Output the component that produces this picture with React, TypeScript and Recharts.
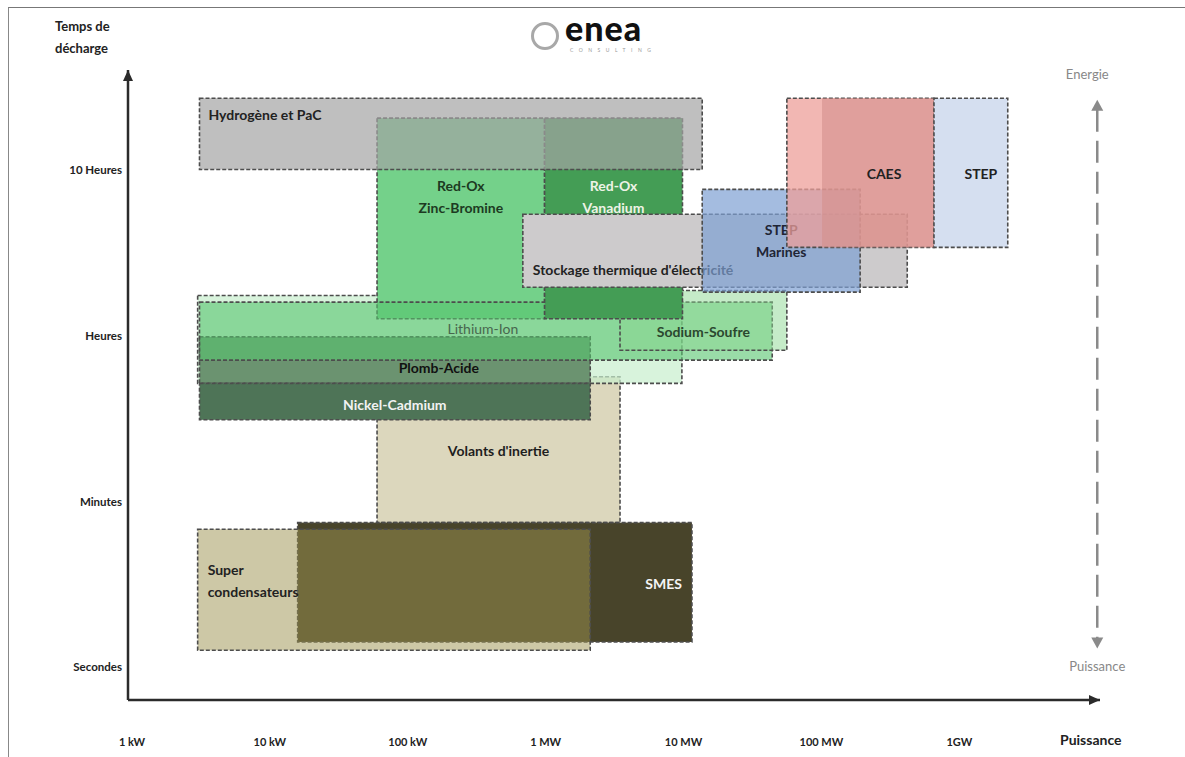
import React from 'react';
import { ComposedChart, XAxis, YAxis, ReferenceArea, ReferenceLine } from 'recharts';

const FONT = "Lato, 'Open Sans', sans-serif";

// storage technologies, listed in drawing order (later ones sit on top)
const techs = [
  "Volants d'inertie",
  'SMES',
  'Super condensateurs',
  'Lithium-Ion (plage)',
  'Red-Ox Zinc-Bromine',
  'Plomb-Acide',
  'Nickel-Cadmium',
  'Lithium-Ion',
  'Sodium-Soufre',
  'Red-Ox Vanadium',
  'Hydrogène et PaC',
  "Stockage thermique d'électricité",
  'STEP Marines',
  'CAES (plage)',
  'CAES',
  'STEP',
];

// text written in each box ('' = none)
const techLabels = [
  "Volants d'inertie",
  'SMES',
  'Super\ncondensateurs',
  '',
  'Red-Ox\nZinc-Bromine',
  'Plomb-Acide',
  'Nickel-Cadmium',
  'Lithium-Ion',
  'Sodium-Soufre',
  'Red-Ox\nVanadium',
  'Hydrogène et PaC',
  "Stockage thermique d'électricité",
  'STEP\nMarines',
  '',
  'CAES',
  'STEP',
];

// power range, kW
const powerMin = [64, 17, 3.2, 3.2, 64, 3.3, 3.3, 3.3, 3700, 1050, 3.3, 730, 14600, 60000, 108000, 700000];
const powerMax = [3700, 12300, 2250, 10400, 1050, 2250, 2250, 47000, 60000, 10500, 14600, 448000, 204000, 700000, 700000, 2400000];

// discharge time, in axis steps (0 = secondes, 1 = minutes, 2 = heures, 3 = 10 heures)
const timeMin = [0.87, 0.15, 0.1, 1.71, 2.1, 1.71, 1.49, 1.85, 1.91, 2.1, 3.0, 2.29, 2.26, 2.53, 2.53, 2.53];
const timeMax = [1.75, 0.87, 0.83, 2.24, 3.31, 1.99, 1.71, 2.2, 2.27, 3.31, 3.43, 2.73, 2.88, 3.43, 3.43, 3.43];

const powerTicks = [1, 10, 100, 1000, 10000, 100000, 1000000];
const powerTickLabels = ['1 kW', '10 kW', '100 kW', '1 MW', '10 MW', '100 MW', '1GW'];
const timeTicks = [0, 1, 2, 3];
const timeTickLabels = ['Secondes', 'Minutes', 'Heures', '10 Heures'];

type Look = {
  fill: string;
  op: number;
  dash: boolean;
  ink?: string;
  weight?: number;
  anchor?: 'start' | 'middle' | 'end';
  dx?: number;
  dy?: number;
};

// styles, same order as techs
const looks: Look[] = [
  { fill: '#dcd7bd', op: 1, dash: true, ink: '#1e1e1e', anchor: 'middle', dy: 74 },
  { fill: '#48442a', op: 1, dash: true, ink: '#f4f4f4', anchor: 'end', dx: -10, dy: 61 },
  { fill: '#9b914d', op: 0.5, dash: true, ink: '#222', anchor: 'start', dx: 10, dy: 40 },
  { fill: '#c8eecd', op: 0.7, dash: true },
  { fill: '#74d18a', op: 1, dash: true, ink: '#1d3a22', anchor: 'middle', dy: 67 },
  { fill: '#6b9370', op: 1, dash: true, ink: '#111', anchor: 'middle', dx: 44, dy: 31 },
  { fill: '#4e7457', op: 1, dash: true, ink: '#f2f2f2', anchor: 'middle', dy: 21 },
  { fill: '#56c46e', op: 0.6, dash: true, ink: '#48664e', weight: 400, anchor: 'middle', dx: -3, dy: 26 },
  { fill: '#8bd791', op: 0.5, dash: true, ink: '#2b482f', anchor: 'middle', dy: 41 },
  { fill: '#449d55', op: 1, dash: true, ink: '#eef3e6', anchor: 'middle', dy: 67 },
  { fill: '#a4a4a4', op: 0.7, dash: true, ink: '#222', anchor: 'start', dx: 9, dy: 16 },
  { fill: '#cdcbcc', op: 1, dash: true, ink: '#222', anchor: 'start', dx: 10, dy: 55 },
  { fill: '#7e9fd3', op: 0.7, dash: true, ink: '#1f2535', anchor: 'middle', dy: 40 },
  { fill: '#ee9f9a', op: 0.75, dash: true },
  { fill: '#d4908c', op: 0.6, dash: false, ink: '#222', anchor: 'middle', dx: 6, dy: 75 },
  { fill: '#d5dff0', op: 1, dash: true, ink: '#222', anchor: 'middle', dx: 10, dy: 75 },
];

const boxShape = (i: number) => (p: any) => {
  const look = looks[i];
  const { x, y, width, height } = p;
  const lines = techLabels[i] ? techLabels[i].split('\n') : [];
  const anchor = look.anchor ?? 'middle';
  let tx = x + width / 2 + (look.dx ?? 0);
  if (anchor === 'start') tx = x + (look.dx ?? 0);
  if (anchor === 'end') tx = x + width + (look.dx ?? 0);
  return (
    <g>
      <rect
        x={x}
        y={y}
        width={width}
        height={height}
        fill={look.fill}
        fillOpacity={look.op}
        stroke={look.dash ? '#4d4d4d' : 'none'}
        strokeWidth={1.6}
        strokeDasharray={look.dash ? '4 2' : undefined}
      />
      {lines.map((t, k) => (
        <text
          key={k}
          x={tx}
          y={y + (look.dy ?? 0) + k * 22}
          textAnchor={anchor}
          dominantBaseline="central"
          fill={look.ink}
          fontSize={14}
          fontWeight={look.weight ?? 700}
          fontFamily={FONT}
        >
          {t}
        </text>
      ))}
    </g>
  );
};

const arrowHead = (x1: number, y1: number, x2: number, y2: number, len: number, half: number) => {
  const a = Math.atan2(y2 - y1, x2 - x1);
  const bx = x2 - len * Math.cos(a);
  const by = y2 - len * Math.sin(a);
  const px = half * Math.sin(a);
  const py = half * Math.cos(a);
  return `${x2},${y2} ${bx - px},${by + py} ${bx + px},${by - py}`;
};

const AxisArrow = (p: any) => {
  const { x1, y1, x2, y2 } = p;
  return (
    <g>
      <line x1={x1} y1={y1} x2={x2} y2={y2} stroke="#2b2b2b" strokeWidth={2.5} />
      <polygon points={arrowHead(x1, y1, x2, y2, 11, 5)} fill="#2b2b2b" />
    </g>
  );
};

const ScaleArrow = (p: any) => {
  const { x1, y1, x2, y2 } = p;
  return (
    <g>
      <line x1={x1} y1={y1 + 10} x2={x2} y2={y2 - 10} stroke="#8a8a8a" strokeWidth={2.5} strokeDasharray="22 9" />
      <polygon points={arrowHead(x2, y2, x1, y1, 11, 6)} fill="#8a8a8a" />
      <polygon points={arrowHead(x1, y1, x2, y2, 11, 6)} fill="#8a8a8a" />
      <text x={x1 - 10} y={y1 - 21} textAnchor="middle" fill="#888" fontSize={13} fontFamily={FONT}>
        Energie
      </text>
      <text x={x2} y={y2 + 22} textAnchor="middle" fill="#888" fontSize={13} fontFamily={FONT}>
        Puissance
      </text>
    </g>
  );
};

const PowerTick = (p: any) => {
  const i = powerTicks.indexOf(p.payload.value);
  return (
    <text x={p.x + 4} y={p.y + 33} textAnchor="middle" dominantBaseline="central" fontSize={11} fontWeight={700} fill="#222" fontFamily={FONT}>
      {powerTickLabels[i]}
    </text>
  );
};

const TimeTick = (p: any) => {
  const i = timeTicks.indexOf(p.payload.value);
  return (
    <text x={p.x + 2} y={p.y} textAnchor="end" dominantBaseline="central" fontSize={11.5} fontWeight={700} fill="#222" fontFamily={FONT}>
      {timeTickLabels[i]}
    </text>
  );
};

const App = () => {
  return (
    <div style={{ position: 'absolute', left: 0, top: 0, width: 1185, height: 757, background: '#fff', fontFamily: FONT }}>
      <div style={{ position: 'absolute', left: 8, top: 7, right: 0, bottom: 0, borderTop: '1px solid #777', borderLeft: '1px solid #888' }} />
      <div style={{ position: 'absolute', left: 55, top: 15, fontSize: 13, fontWeight: 700, color: '#222', lineHeight: '22px' }}>
        Temps de
        <br />
        décharge
      </div>
      <div style={{ position: 'absolute', left: 1060, top: 731, fontSize: 14, fontWeight: 700, color: '#222' }}>Puissance</div>
      <div style={{ position: 'absolute', left: 531, top: 22, width: 22, height: 22, borderRadius: '50%', border: '3px solid #a8a8a8' }} />
      <div style={{ position: 'absolute', left: 565, top: 13, fontSize: 34, lineHeight: '30px', height: 31, fontWeight: 900, color: '#111', letterSpacing: 1 }}>enea</div>
      <div style={{ position: 'absolute', left: 570, top: 47, fontSize: 5, lineHeight: '6px', color: '#999', letterSpacing: 5.5 }}>CONSULTING</div>

      <ComposedChart width={1185} height={757} margin={{ top: 70, right: 85, bottom: 27, left: 68 }} style={{ position: 'absolute', left: 0, top: 0 }}>
        <XAxis
          type="number"
          dataKey="p"
          scale="log"
          domain={[1, 11200000]}
          allowDataOverflow
          ticks={powerTicks}
          tick={<PowerTick />}
          tickLine={false}
          axisLine={false}
          height={30}
        />
        <YAxis
          type="number"
          dataKey="t"
          domain={[-0.2, 3.6]}
          allowDataOverflow
          ticks={timeTicks}
          tick={<TimeTick />}
          tickLine={false}
          axisLine={false}
          width={60}
        />
        {techs.map((name, i) => (
          <ReferenceArea
            key={name}
            x1={powerMin[i]}
            x2={powerMax[i]}
            y1={timeMin[i]}
            y2={timeMax[i]}
            ifOverflow="visible"
            shape={boxShape(i)}
          />
        ))}
        <ReferenceLine
          segment={[{ x: 1, y: -0.2 }, { x: 1, y: 3.6 }]}
          ifOverflow="visible"
          shape={AxisArrow}
        />
        <ReferenceLine
          segment={[{ x: 1, y: -0.2 }, { x: 11200000, y: -0.2 }]}
          ifOverflow="visible"
          shape={AxisArrow}
        />
        <ReferenceLine
          segment={[{ x: 10700000, y: 3.42 }, { x: 10700000, y: 0.11 }]}
          ifOverflow="visible"
          shape={ScaleArrow}
        />
      </ComposedChart>
    </div>
  );
};

export default App;
